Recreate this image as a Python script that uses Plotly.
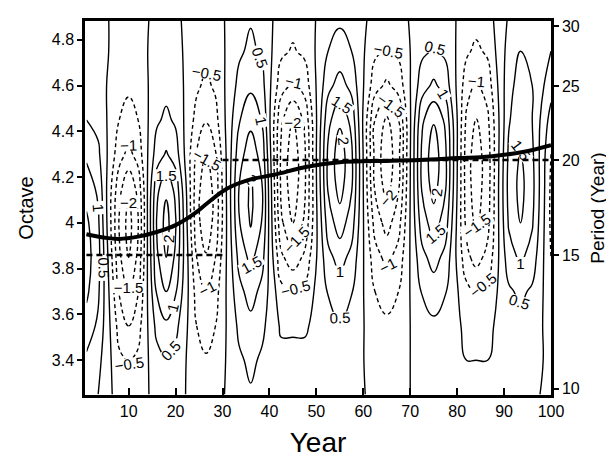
import plotly.graph_objects as go
import math

# ---- data ----
OCTAVES = [3.25, 3.4, 3.55, 3.7, 3.85, 4.0, 4.15, 4.3, 4.45, 4.6, 4.75, 4.9]
YEARS = [1, 3.5, 8, 10, 12, 16, 18, 20, 24.5, 26.5, 28.5, 33.5, 36, 38.5,
         42.5, 45, 47.5, 52.5, 55, 57.5, 62.5, 65, 67.5, 72.5, 75, 77.5,
         82, 84, 86.5, 91, 93.5, 96, 100]
# one vertical profile (bottom -> top, at OCTAVES) per year in YEARS
PROFILES = [
    [0.7, 0.9, 1.3, 1.6, 1.7, 1.6, 1.3, 0.9, 0.5, 0.3, 0.2, 0.15],
    [0.5, 0.65, 0.9, 1.1, 1.2, 1.1, 0.9, 0.6, 0.35, 0.2, 0.15, 0.1],
    [-0.25, -0.4, -0.7, -1.05, -1.4, -1.55, -1.35, -0.8, -0.5, -0.3, -0.15, -0.1],
    [-0.35, -0.55, -1.0, -1.5, -2.0, -2.2, -1.9, -1.15, -0.7, -0.4, -0.25, -0.15],
    [-0.25, -0.4, -0.7, -1.05, -1.4, -1.55, -1.35, -0.8, -0.5, -0.3, -0.15, -0.1],
    [0.18, 0.32, 0.65, 1.05, 1.4, 1.55, 1.35, 0.75, 0.42, 0.25, 0.14, 0.07],
    [0.25, 0.45, 0.9, 1.5, 2.0, 2.2, 1.9, 1.05, 0.6, 0.35, 0.2, 0.1],
    [0.18, 0.32, 0.65, 1.05, 1.4, 1.55, 1.35, 0.75, 0.42, 0.25, 0.14, 0.07],
    [-0.2, -0.32, -0.5, -0.7, -1.0, -1.3, -1.3, -1.05, -0.67, -0.42, -0.28, -0.2],
    [-0.3, -0.45, -0.7, -1.0, -1.45, -1.85, -1.85, -1.5, -0.95, -0.6, -0.4, -0.3],
    [-0.2, -0.32, -0.5, -0.7, -1.0, -1.3, -1.3, -1.05, -0.67, -0.42, -0.28, -0.2],
    [0.32, 0.42, 0.6, 0.85, 1.15, 1.45, 1.5, 1.27, 0.95, 0.64, 0.42, 0.32],
    [0.45, 0.6, 0.85, 1.2, 1.65, 2.05, 2.1, 1.8, 1.35, 0.9, 0.6, 0.45],
    [0.32, 0.42, 0.6, 0.85, 1.15, 1.45, 1.5, 1.27, 0.95, 0.64, 0.42, 0.32],
    [0.2, 0.14, -0.07, -0.35, -0.9, -1.4, -1.6, -1.6, -1.4, -0.8, -0.4, -0.25],
    [0.3, 0.2, -0.1, -0.5, -1.3, -2.0, -2.3, -2.3, -2.0, -1.1, -0.55, -0.35],
    [0.2, 0.14, -0.07, -0.35, -0.9, -1.4, -1.6, -1.6, -1.4, -0.8, -0.4, -0.25],
    [0.14, 0.2, 0.32, 0.53, 0.85, 1.25, 1.55, 1.6, 1.35, 0.85, 0.5, 0.28],
    [0.2, 0.3, 0.45, 0.75, 1.2, 1.75, 2.2, 2.3, 1.9, 1.2, 0.7, 0.4],
    [0.14, 0.2, 0.32, 0.53, 0.85, 1.25, 1.55, 1.6, 1.35, 0.85, 0.5, 0.28],
    [-0.1, -0.18, -0.28, -0.5, -0.8, -1.2, -1.55, -1.65, -1.5, -0.8, -0.4, -0.14],
    [-0.15, -0.25, -0.4, -0.7, -1.15, -1.7, -2.2, -2.35, -2.1, -1.1, -0.55, -0.2],
    [-0.1, -0.18, -0.28, -0.5, -0.8, -1.2, -1.55, -1.65, -1.5, -0.8, -0.4, -0.14],
    [0.1, 0.18, 0.28, 0.53, 0.85, 1.25, 1.55, 1.6, 1.4, 0.78, 0.4, 0.2],
    [0.15, 0.25, 0.4, 0.75, 1.2, 1.75, 2.2, 2.3, 1.95, 1.1, 0.55, 0.3],
    [0.1, 0.18, 0.28, 0.53, 0.85, 1.25, 1.55, 1.6, 1.4, 0.78, 0.4, 0.2],
    [0.03, 0.0, -0.1, -0.35, -0.85, -1.15, -1.25, -1.25, -1.1, -0.78, -0.42, -0.2],
    [0.05, 0.0, -0.15, -0.5, -1.2, -1.6, -1.75, -1.75, -1.55, -1.1, -0.6, -0.3],
    [0.03, 0.0, -0.1, -0.35, -0.85, -1.15, -1.25, -1.25, -1.1, -0.78, -0.42, -0.2],
    [0.07, 0.14, 0.25, 0.42, 0.78, 1.06, 1.17, 1.1, 0.95, 0.85, 0.7, 0.55],
    [0.1, 0.2, 0.35, 0.6, 1.1, 1.5, 1.65, 1.55, 1.35, 1.2, 1.0, 0.8],
    [0.07, 0.14, 0.25, 0.42, 0.78, 1.06, 1.17, 1.1, 1.0, 1.0, 0.9, 0.75],
    [-0.1, -0.1, -0.2, -0.3, -0.5, -0.6, -0.6, -0.5, -0.2, 0.2, 0.5, 0.6],
]

# ridge (thick line), in octaves
RIDGE_YEAR = [1, 5, 8, 12, 16, 20, 24, 27, 31, 36, 41, 48, 55, 62, 72, 80, 87, 94, 100]
RIDGE_OCT = [3.95, 3.935, 3.93, 3.94, 3.96, 3.99, 4.04, 4.09, 4.15, 4.19, 4.21,
             4.245, 4.265, 4.27, 4.275, 4.283, 4.29, 4.31, 4.34]

# dashed reference periods (years)
STEP1_YEAR = [1, 30]
STEP1_PERIOD = [15, 15]
STEP2_YEAR = [30, 100]
STEP2_PERIOD = [20, 20]

X_TICKS = [10, 20, 30, 40, 50, 60, 70, 80, 90, 100]
Y_TICKS = [3.4, 3.6, 3.8, 4.0, 4.2, 4.4, 4.6, 4.8]
P_TICKS = [10, 15, 20, 25, 30]

OCT_RANGE = [3.248, 4.882]
FOURIER_FACTOR = 1.033  # Morlet period / scale

# z matrix: rows = octaves, cols = years
Z = [[PROFILES[j][i] for j in range(len(YEARS))] for i in range(len(OCTAVES))]

FONT = "Liberation Sans, Arial, sans-serif"
BLACK_SCALE = [[0, "black"], [1, "black"]]

fig = go.Figure()

common = dict(x=YEARS, y=OCTAVES, z=Z, showscale=False, hoverinfo="skip",
              colorscale=BLACK_SCALE)
LABEL_FONT = dict(size=15, color="black", family=FONT)
# negative levels: dashed
fig.add_trace(go.Contour(
    **common,
    contours=dict(start=-3.0, end=-0.5, size=0.5, coloring="lines",
                  showlabels=True, labelfont=LABEL_FONT),
    line=dict(width=1.4, dash="4px,3px", smoothing=1.3),
))
# zero level: solid, unlabelled
fig.add_trace(go.Contour(
    **common,
    contours=dict(start=0.0, end=0.0, size=0.5, coloring="lines",
                  showlabels=False),
    line=dict(width=1.4, smoothing=1.3),
))
# positive levels: solid
fig.add_trace(go.Contour(
    **common,
    contours=dict(start=0.5, end=3.0, size=0.5, coloring="lines",
                  showlabels=True, labelfont=LABEL_FONT),
    line=dict(width=1.4, smoothing=1.3),
))

fig.add_trace(go.Scatter(x=RIDGE_YEAR, y=RIDGE_OCT, mode="lines",
                         line=dict(color="black", width=4, shape="spline"),
                         hoverinfo="skip", showlegend=False))
fig.add_trace(go.Scatter(x=STEP1_YEAR, y=STEP1_PERIOD, yaxis="y2", mode="lines",
                         line=dict(color="black", width=2.5, dash="6px,4px"),
                         hoverinfo="skip", showlegend=False))
fig.add_trace(go.Scatter(x=STEP2_YEAR, y=STEP2_PERIOD, yaxis="y2", mode="lines",
                         line=dict(color="black", width=2.5, dash="6px,4px"),
                         hoverinfo="skip", showlegend=False))

p_lo = math.log10(FOURIER_FACTOR) + OCT_RANGE[0] * math.log10(2)
p_hi = math.log10(FOURIER_FACTOR) + OCT_RANGE[1] * math.log10(2)

fig.update_layout(
    width=614, height=460,
    margin=dict(l=77, r=71, t=13, b=73, autoexpand=False),
    paper_bgcolor="white", plot_bgcolor="white",
    showlegend=False,
    font=dict(family=FONT, color="black", size=16),
    xaxis=dict(range=[0.7, 100], tickvals=X_TICKS, ticks="inside", ticklen=7,
               tickwidth=1.5, tickcolor="black", showline=True, linewidth=2.5,
               linecolor="black", mirror=True, showgrid=False, zeroline=False,
               automargin=False, tickfont=dict(size=16),
               title=dict(text="Year", font=dict(size=28), standoff=14)),
    yaxis=dict(range=OCT_RANGE, tickvals=Y_TICKS, ticks="outside", ticklen=5,
               tickwidth=1.5, tickcolor="black", showline=True, linewidth=2.5,
               linecolor="black", showgrid=False, zeroline=False,
               automargin=False, tickfont=dict(size=16),
               title=dict(text="Octave", font=dict(size=20), standoff=13)),
    yaxis2=dict(type="log", range=[p_lo, p_hi], overlaying="y", side="right",
                tickvals=P_TICKS, ticktext=[str(v) for v in P_TICKS],
                ticks="outside", ticklen=5, tickwidth=1.5, tickcolor="black",
                showline=True, linewidth=2.5, linecolor="black",
                showgrid=False, zeroline=False, automargin=False,
                tickfont=dict(size=16),
                title=dict(text="Period (Year)", font=dict(size=19), standoff=12)),
)

fig.write_html("out.html")
